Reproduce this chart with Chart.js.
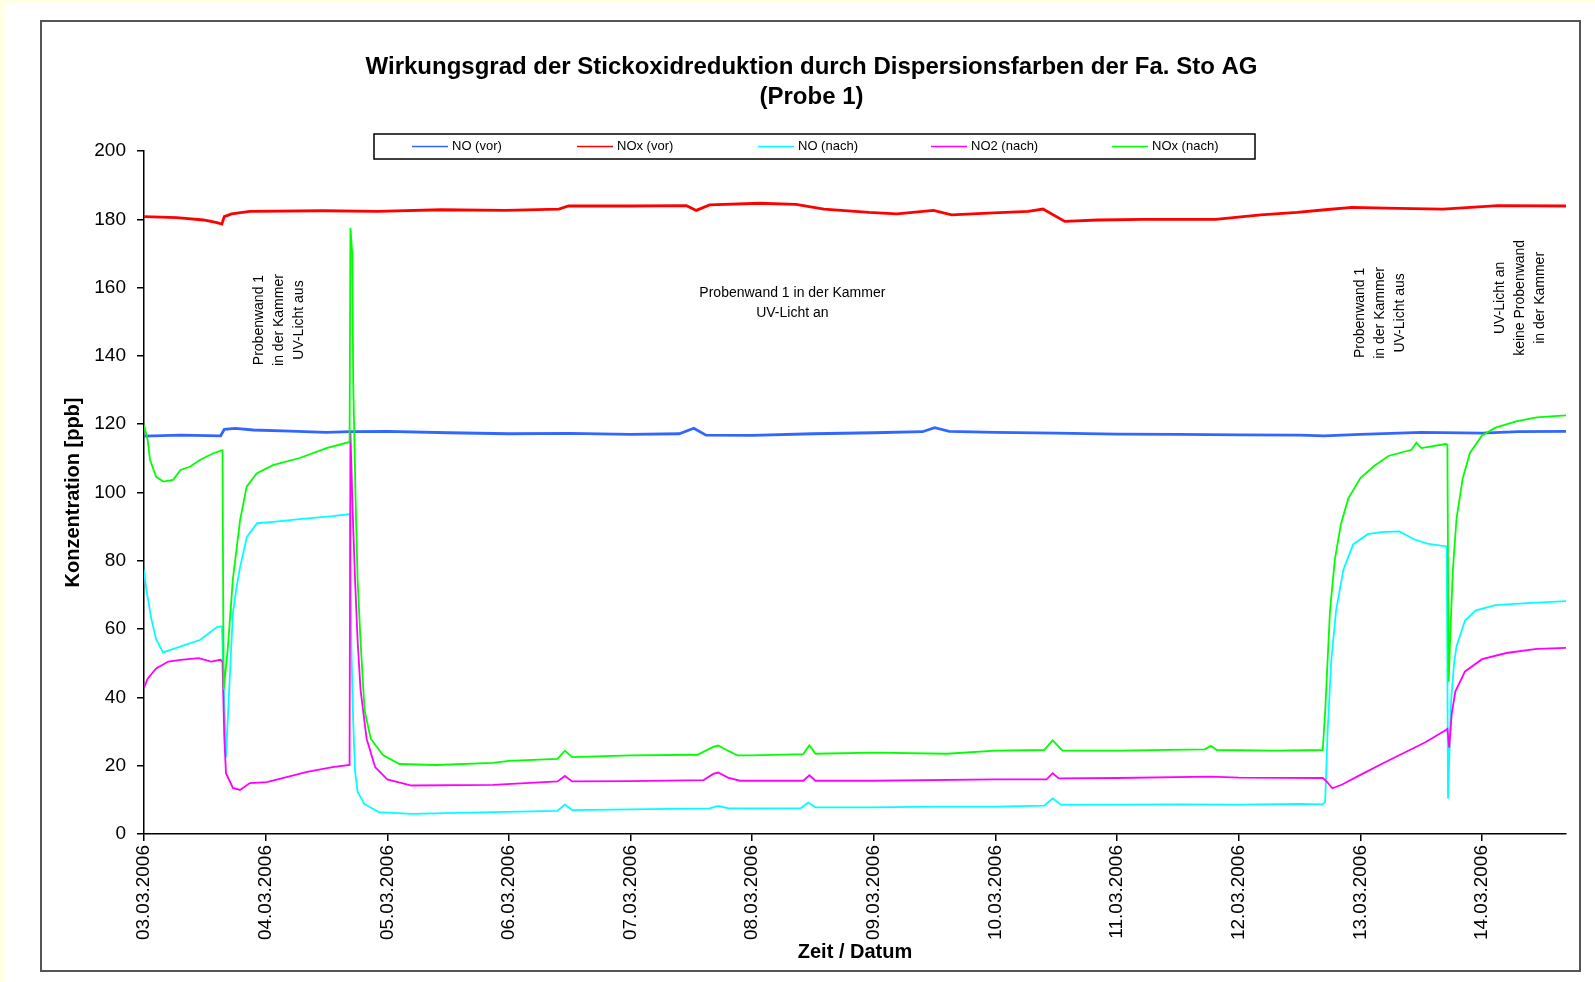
<!DOCTYPE html>
<html>
<head>
<meta charset="utf-8">
<title>Wirkungsgrad der Stickoxidreduktion</title>
<script src="https://cdn.jsdelivr.net/npm/chart.js@4.4.1/dist/chart.umd.min.js"></script>
<style>
html, body { margin: 0; padding: 0; background: #fff; }
#wrap { width: 1595px; height: 982px; }
</style>
</head>
<body>
<div id="wrap"><canvas id="chart" width="1595" height="982"></canvas></div>
<script>
// x values are days since 03.03.2006 00:00, y values in ppb

const dateLabels = ['03.03.2006', '04.03.2006', '05.03.2006', '06.03.2006', '07.03.2006', '08.03.2006',
    '09.03.2006', '10.03.2006', '11.03.2006', '12.03.2006', '13.03.2006', '14.03.2006'];

const seriesNames = ['NO (vor)', 'NOx (vor)', 'NO (nach)', 'NO2 (nach)', 'NOx (nach)'];

// NO (vor)
const noVorT = [0, 0.3, 0.63, 0.66, 0.75, 0.9, 1.2, 1.5, 1.7, 2.0, 2.5, 3.0, 3.5, 4.0, 4.4, 4.52, 4.62, 5.0, 5.5,
    6.0, 6.4, 6.5, 6.62, 7.0, 7.5, 8.0, 8.5, 9.0, 9.5, 9.7, 10.0, 10.5, 11.0, 11.3, 11.69];
const noVor = [116.5, 116.8, 116.6, 118.5, 118.8, 118.3, 118.0, 117.6, 117.8, 117.9, 117.5, 117.2, 117.3, 117.0, 117.2,
    118.8, 116.8, 116.7, 117.2, 117.5, 117.8, 119.0, 117.9, 117.6, 117.4, 117.1, 117.0, 116.9, 116.8, 116.6, 117.0,
    117.6, 117.4, 117.8, 117.9];

// NOx (vor)
const noxVorT = [0, 0.27, 0.49, 0.6, 0.64, 0.66, 0.72, 0.87, 1.47, 1.92, 2.44, 2.97, 3.41, 3.49, 4.01, 4.46, 4.54,
    4.65, 5.06, 5.36, 5.59, 5.96, 6.19, 6.49, 6.64, 6.94, 7.27, 7.39, 7.57, 7.84, 8.21, 8.81, 9.18, 9.48, 9.71, 9.93,
    10.31, 10.68, 11.13, 11.69];
const noxVor = [180.8, 180.5, 179.8, 179.0, 178.6, 180.8, 181.6, 182.3, 182.5, 182.3, 182.8, 182.6, 183.0, 183.9,
    183.9, 184.0, 182.6, 184.2, 184.7, 184.4, 183.0, 182.0, 181.6, 182.6, 181.3, 181.8, 182.3, 183.0, 179.4, 179.8,
    180.0, 180.0, 181.3, 182.0, 182.8, 183.5, 183.2, 183.0, 184.0, 183.9];

// NO (nach)
const noNachT = [0, 0.02, 0.06, 0.1, 0.156, 0.25, 0.35, 0.46, 0.6, 0.641, 0.674, 0.7, 0.731, 0.76, 0.789, 0.846,
    0.929, 1.06, 1.28, 1.55, 1.695, 1.705, 1.72, 1.735, 1.756, 1.81, 1.93, 2.2, 2.87, 3.4, 3.46, 3.52, 4.0, 4.65,
    4.72, 4.8, 5.0, 5.4, 5.46, 5.52, 6.0, 6.5, 7.0, 7.4, 7.47, 7.54, 8.0, 8.5, 9.0, 9.5, 9.69, 9.71, 9.73, 9.76,
    9.8, 9.86, 9.94, 10.06, 10.17, 10.32, 10.44, 10.55, 10.71, 10.72, 10.745, 10.77, 10.79, 10.86, 10.95, 11.11,
    11.37, 11.69];
const noNach = [77.3, 71.4, 63.0, 57.0, 53.2, 54.3, 55.5, 56.8, 60.6, 60.8, 22.5, 42.0, 64.7, 72.0, 78.0, 87.0,
    91.0, 91.4, 92.2, 93.1, 93.7, 54.0, 32.8, 18.4, 12.4, 8.8, 6.4, 5.9, 6.4, 6.8, 8.6, 7.0, 7.2, 7.5,
    8.2, 7.6, 7.5, 7.6, 9.2, 7.8, 7.8, 8.0, 8.0, 8.3, 10.4, 8.5, 8.6, 8.7, 8.6, 8.8, 8.7, 9.5, 29.8, 50.6,
    65.5, 77.4, 84.8, 87.8, 88.4, 88.6, 86.3, 85.0, 84.2, 10.4, 38.7, 50.0, 55.0, 62.5, 65.5, 67.0,
    67.6, 68.2];

// NO2 (nach)
const no2NachT = [0, 0.03, 0.1, 0.2, 0.3, 0.45, 0.55, 0.63, 0.645, 0.66, 0.674, 0.731, 0.789, 0.87, 1.01, 1.18,
    1.34, 1.55, 1.69, 1.697, 1.715, 1.735, 1.756, 1.78, 1.83, 1.9, 2.0, 2.2, 2.87, 3.4, 3.46, 3.52, 4.0, 4.6, 4.68,
    4.72, 4.8, 4.9, 5.42, 5.47, 5.52, 6.0, 7.0, 7.42, 7.47, 7.52, 8.0, 8.77, 9.0, 9.69, 9.72, 9.77, 9.85, 10.0,
    10.19, 10.36, 10.53, 10.7, 10.715, 10.73, 10.75, 10.78, 10.86, 11.0, 11.2, 11.45, 11.69];
const no2Nach = [42.8, 45.5, 48.5, 50.5, 51.0, 51.5, 50.5, 51.0, 50.5, 28.5, 17.8, 13.5, 12.9, 14.9, 15.2, 16.7,
    18.2, 19.6, 20.2, 117.5, 95.0, 74.5, 56.6, 42.3, 27.9, 19.6, 16.0, 14.2, 14.4, 15.4, 17.0, 15.4, 15.5, 15.8, 17.6,
    18.0, 16.5, 15.6, 15.6, 17.2, 15.6, 15.6, 16.0, 16.0, 17.8, 16.3, 16.4, 16.8, 16.5, 16.4, 15.5, 13.4, 14.5, 17.3,
    20.8, 23.8, 26.8, 30.4, 30.8, 25.3, 35.0, 41.7, 47.6, 51.2, 53.0, 54.2, 54.5];

// NOx (nach)
const noxNachT = [0, 0.03, 0.05, 0.1, 0.16, 0.24, 0.3, 0.38, 0.46, 0.57, 0.645, 0.655, 0.69, 0.73, 0.79, 0.844,
    0.926, 1.06, 1.28, 1.5, 1.69, 1.697, 1.712, 1.72, 1.74, 1.756, 1.78, 1.813, 1.864, 1.964, 2.1, 2.4, 2.87, 3.0,
    3.4, 3.46, 3.52, 4.0, 4.55, 4.68, 4.72, 4.8, 4.88, 5.0, 5.42, 5.47, 5.52, 6.0, 6.6, 7.0, 7.4, 7.47, 7.55, 8.0,
    8.72, 8.77, 8.82, 9.3, 9.69, 9.71, 9.75, 9.79, 9.84, 9.9, 10.0, 10.11, 10.23, 10.42, 10.46, 10.5, 10.7, 10.715,
    10.725, 10.74, 10.76, 10.79, 10.84, 10.9, 11.0, 11.11, 11.28, 11.45, 11.69];
const noxNach = [119.8, 115.4, 109.5, 104.6, 103.2, 103.7, 106.6, 107.6, 109.5, 111.5, 112.4, 42.2, 54.8, 74.4,
    91.9, 101.7, 105.6, 108.0, 110.1, 113.0, 114.8, 177.5, 170.0, 132.0, 97.2, 74.5, 56.6, 36.3, 27.9, 23.1, 20.5,
    20.2, 20.8, 21.4, 22.0, 24.4, 22.5, 23.0, 23.2, 25.5, 25.9, 24.4, 23.0, 23.0, 23.4, 26.0, 23.5, 23.8, 23.5,
    24.4, 24.6, 27.4, 24.4, 24.4, 24.8, 25.8, 24.6, 24.4, 24.6, 35.7, 65.5, 80.4, 90.8, 98.2, 104.2, 107.7, 110.7,
    112.5, 114.6, 113.0, 114.2, 114.0, 44.6, 59.5, 77.4, 92.3, 104.0, 111.6, 116.7, 119.0, 120.8, 122.0, 122.6];

// Text notes, anchored in data units (day, ppb)
const notes = [
    { day: 1.11, ppb: 150.5, vertical: true, lines: ['Probenwand 1', 'in der Kammer', 'UV-Licht aus'] },
    { day: 5.33, ppb: 155.5, vertical: false, lines: ['Probenwand 1 in der Kammer', 'UV-Licht an'] },
    { day: 10.16, ppb: 152.6, vertical: true, lines: ['Probenwand 1', 'in der Kammer', 'UV-Licht aus'] },
    { day: 11.31, ppb: 157, vertical: true, lines: ['UV-Licht an', 'keine Probenwand', 'in der Kammer'] }
];

const colors = ['#3366FF', '#FF0000', '#00FFFF', '#FF00FF', '#00FF00'];
const FONT = '"Liberation Sans", Arial, sans-serif';

function pairs(t, v) {
    return t.map((x, i) => ({ x: x, y: v[i] }));
}

const seriesData = [
    pairs(noVorT, noVor),
    pairs(noxVorT, noxVor),
    pairs(noNachT, noNach),
    pairs(no2NachT, no2Nach),
    pairs(noxNachT, noxNach)
];

// page background, outer frame
const framePlugin = {
    id: 'frame',
    beforeDraw(chart) {
        const ctx = chart.ctx;
        ctx.save();
        ctx.fillStyle = '#ffffff';
        ctx.fillRect(0, 0, chart.width, chart.height);
        ctx.fillStyle = '#FFFFE6';
        ctx.fillRect(0, 0, 5, chart.height);
        ctx.fillRect(0, 0, chart.width, 3);
        ctx.strokeStyle = '#555555';
        ctx.lineWidth = 2;
        ctx.strokeRect(41, 21, 1539, 950);
        ctx.restore();
    }
};

// boxed legend in one row
const legendPlugin = {
    id: 'boxLegend',
    afterDraw(chart) {
        const ctx = chart.ctx;
        const box = { x: 374, y: 134, w: 881, h: 25 };
        const offsets = [38, 203, 384, 557, 738];
        const cy = box.y + box.h / 2;
        ctx.save();
        ctx.fillStyle = '#ffffff';
        ctx.fillRect(box.x, box.y, box.w, box.h);
        ctx.strokeStyle = '#000000';
        ctx.lineWidth = 1.5;
        ctx.strokeRect(box.x, box.y, box.w, box.h);
        ctx.font = '13px ' + FONT;
        ctx.textBaseline = 'middle';
        ctx.textAlign = 'left';
        chart.data.datasets.forEach((ds, i) => {
            const x = box.x + offsets[i];
            ctx.strokeStyle = ds.borderColor;
            ctx.lineWidth = 1.5;
            ctx.beginPath();
            ctx.moveTo(x, cy);
            ctx.lineTo(x + 36, cy);
            ctx.stroke();
            ctx.fillStyle = '#000000';
            ctx.fillText(ds.label, x + 40, cy);
        });
        ctx.restore();
    }
};

// text notes inside the plot
const notesPlugin = {
    id: 'notes',
    afterDatasetsDraw(chart) {
        const ctx = chart.ctx;
        const xs = chart.scales.x;
        const ys = chart.scales.y;
        const gap = 20;
        ctx.save();
        ctx.font = '14px ' + FONT;
        ctx.fillStyle = '#000000';
        ctx.textAlign = 'center';
        ctx.textBaseline = 'middle';
        notes.forEach(n => {
            const px = xs.getPixelForValue(n.day);
            const py = ys.getPixelForValue(n.ppb);
            const mid = (n.lines.length - 1) / 2;
            ctx.save();
            ctx.translate(px, py);
            if (n.vertical) ctx.rotate(-Math.PI / 2);
            n.lines.forEach((line, i) => {
                ctx.fillText(line, 0, (i - mid) * gap);
            });
            ctx.restore();
        });
        ctx.restore();
    }
};

Chart.defaults.color = '#000000';
Chart.defaults.font.family = FONT;

const ctx = document.getElementById('chart').getContext('2d');

const myChart = new Chart(ctx, {
    type: 'line',
    data: {
        datasets: seriesNames.map((name, i) => ({
            label: name,
            data: seriesData[i],
            borderColor: colors[i],
            backgroundColor: colors[i],
            borderWidth: i < 2 ? 2.8 : 1.8,
            pointRadius: 0,
            tension: 0,
            fill: false,
            order: 5 - i
        }))
    },
    options: {
        responsive: false,
        animation: false,
        layout: {
            padding: { left: 57, right: 29, top: 0, bottom: 14 }
        },
        plugins: {
            legend: { display: false },
            tooltip: { enabled: false },
            title: {
                display: true,
                text: ['Wirkungsgrad der Stickoxidreduktion durch Dispersionsfarben der Fa. Sto AG', '(Probe 1)'],
                font: { size: 24, weight: 'bold', lineHeight: 1.25 },
                color: '#000000',
                padding: { top: 52, bottom: 39 }
            }
        },
        scales: {
            x: {
                type: 'linear',
                min: 0,
                max: 11.69,
                afterFit(scale) { scale.height = 134; },
                grid: { display: true, drawOnChartArea: false, drawTicks: true, tickLength: 7, color: '#000000', lineWidth: 1.5 },
                border: { display: true, color: '#000000', width: 1.5 },
                ticks: {
                    stepSize: 1,
                    includeBounds: false,
                    autoSkip: false,
                    minRotation: 90,
                    maxRotation: 90,
                    padding: 4,
                    font: { size: 19 },
                    callback: (value) => dateLabels[value] || ''
                },
                title: {
                    display: true,
                    text: 'Zeit / Datum',
                    font: { size: 20, weight: 'bold' },
                    padding: 4
                }
            },
            y: {
                min: 0,
                max: 200,
                afterFit(scale) { scale.width = 87; },
                grid: { display: true, drawOnChartArea: false, drawTicks: true, tickLength: 7, color: '#000000', lineWidth: 1.5 },
                border: { display: true, color: '#000000', width: 1.5 },
                ticks: {
                    stepSize: 20,
                    padding: 11,
                    font: { size: 19 }
                },
                title: {
                    display: true,
                    text: 'Konzentration [ppb]',
                    font: { size: 20, weight: 'bold' },
                    padding: 4
                }
            }
        }
    },
    plugins: [framePlugin, legendPlugin, notesPlugin]
});
</script>
</body>
</html>
